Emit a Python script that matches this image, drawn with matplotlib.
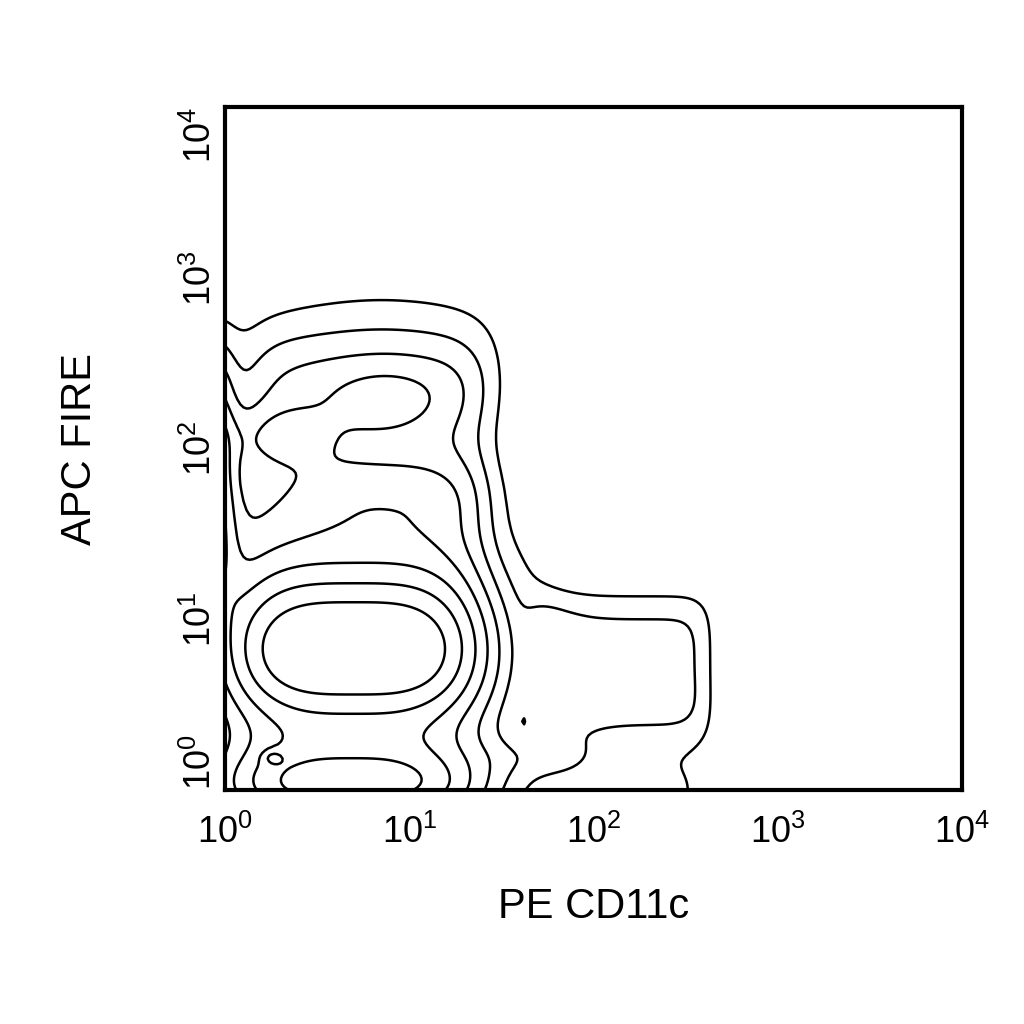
import numpy as np
import matplotlib.pyplot as plt

plt.rcParams['font.family'] = ['Liberation Sans', 'DejaVu Sans']
plt.rcParams['mathtext.fontset'] = 'custom'
plt.rcParams['mathtext.rm'] = 'Liberation Sans'
plt.rcParams['mathtext.it'] = 'Liberation Sans'

# cell populations in log10 decades: centre, spread, shape exponent, weight
pop_names = ['main', 'axis', 'tail', 'shoulder', 'upper', 'top', 'isl_up',
             'isl_left', 'tiny', 'edge', 'lobe', 'low_right', 'hump']
pop_cx = [0.70, 0.68, 0.62, 0.90, 0.78, 0.85, 0.87, 0.30, 0.26, -0.05, 2.15, 1.74, 2.20]
pop_cy = [0.80, 0.00, 1.72, 1.75, 2.40, 2.75, 2.26, 2.07, 0.19, 1.90, 0.72, 0.20, 0.00]
pop_sx = [0.68, 0.67, 0.75, 0.45, 0.62, 0.45, 0.24, 0.21, 0.04, 0.08, 0.45, 0.22, 0.40]
pop_sy = [0.43, 0.195, 0.40, 0.18, 0.24, 0.20, 0.16, 0.13, 0.03, 0.65, 0.36, 0.09, 0.25]
pop_px = [3.5, 3, 8, 3, 6, 2, 2, 2, 2, 2, 8, 2, 4]
pop_py = [2, 2, 2, 2, 2, 2, 2, 2, 2, 4, 4, 2, 2]
pop_w = [0.92, 0.58, 0.26, 0.13, 0.25, 0.07, 0.13, 0.17, 0.12, 0.35, 0.24, 0.12, 0.12]

levels = [0.1, 0.2, 0.3, 0.4, 0.5, 0.6, 0.7, 0.8]

lx = np.linspace(0, 4, 240)
ly = np.linspace(0, 4, 240)
GX, GY = np.meshgrid(lx, ly)
dens = np.zeros_like(GX)
for i in range(len(pop_names)):
    ux = np.abs((GX - pop_cx[i]) / pop_sx[i]) ** pop_px[i]
    uy = np.abs((GY - pop_cy[i]) / pop_sy[i]) ** pop_py[i]
    dens += pop_w[i] * np.exp(-0.5 * (ux + uy))

fig = plt.figure(figsize=(10.24, 10.24), dpi=100)
ax = fig.add_axes([0.2197, 0.2285, 0.7198, 0.667])
ax.contour(10 ** GX, 10 ** GY, dens, levels=levels, colors='black', linewidths=1.8)
ax.set_xscale('log')
ax.set_yscale('log')
ax.set_xlim(1, 1e4)
ax.set_ylim(1, 1e4)

ticks = [1, 10, 100, 1000, 10000]
tick_labels = ['$10^0$', '$10^1$', '$10^2$', '$10^3$', '$10^4$']
ax.set_xticks(ticks)
ax.set_xticklabels(tick_labels, fontsize=26)
ax.set_yticks(ticks)
ax.set_yticklabels(tick_labels, fontsize=26, rotation=90, va='center')
ax.get_yticklabels()[-1].set_va('top')
ax.get_yticklabels()[0].set_va('bottom')
ax.minorticks_off()
ax.tick_params(axis='x', length=0, pad=18)
ax.tick_params(axis='y', length=0, pad=4)
for s in ax.spines.values():
    s.set_linewidth(3)

ax.set_xlabel('PE CD11c', fontsize=30, labelpad=26)
ax.set_ylabel('APC FIRE', fontsize=30, labelpad=60)

fig.savefig('out.png', dpi=100)
